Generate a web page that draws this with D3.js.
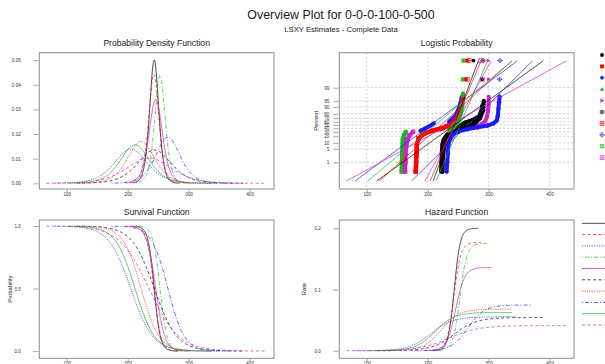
<!DOCTYPE html>
<html>
<head>
<meta charset="utf-8">
<script src="https://cdn.jsdelivr.net/npm/d3@7"></script>
<style>
body { margin: 0; background: #fff; }
svg { display: block; }
text { font-family: "Liberation Sans", Arial, Helvetica, sans-serif; }
</style>
</head>
<body>
<svg id="chart" width="605" height="364"></svg>
<script>
// LSXY logistic fits (location = median, scale from peak / hazard plateau)
var locs   = [243.5, 243, 205, 253, 246, 243.7, 222, 266, 212, 235]
var scales = [5, 5.65, 18, 5.7, 7.35, 18.45, 14.7, 13.4, 16, 24.4]
var zRange = [-6.9, 7.9]   // standardised span each fitted curve is drawn over

var colors = ["#000000", "#ff0000", "#1a1aff", "#1cb41c", "#cc22cc",
              "#000000", "#ff0000", "#1a1aff", "#1cb41c", "#cc22cc"]
var dashes = ["none", "3,2.5", "1.2,1.2", "1,2,4,2", "none", "3,2.5", "1.2,1.2", "1,2,4,2", "none", "3,2.5"]

var xTicks = [100, 200, 300, 400]
var pdfTicks = [0, 0.01, 0.02, 0.03, 0.04, 0.05]
var survTicks = [0, 0.5, 1]
var hazTicks = [0, 0.1, 0.2]
var pctTicks = [1, 5, 10, 20, 30, 40, 50, 60, 70, 80, 90, 95, 99]

// sample points on the logistic probability plot, [time, percent], one list of runs per set
var pts1 = [[[222,0.32],[222.5,1],[223,3],[224,8],[226,14],[232,24],[242,35],[252,48],[262,58],[275,66],[284,74],[288,85],[290,92]], [[289,99.64]], [[275,99.964]]]
var pts2 = [[[181,0.32],[181.5,1],[182,3],[182.5,8],[184,14],[190,22],[200,30],[212,36],[225,42],[236,52],[244,65],[250,78],[255,90],[258,97]], [[262,99.64]], [[264,99.964]]]
var pts3 = [[[158,0.32],[159,3],[160,12],[162,24]], [[188,33],[194,38],[200,44],[206,50],[210,55]], [[235,60],[245,75],[252,90],[256,97]]]
var pts4 = [[[236,30],[242,40],[248,55],[252,70],[255,85],[257,94],[258,98]], [[257,99.64]], [[258,99.964]]]
var pts5 = [[[224,0.32],[225,1],[226,3],[227,8],[229,14],[234,22],[244,30],[258,36],[272,42],[286,50],[294,60],[297,72],[299,85],[300,93],[300,97]], [[300,99.64]], [[299,99.964]]]
var pts6 = [[[224,0.32],[225,2],[227,10],[234,22],[248,34],[262,44],[278,56],[286,70],[291,86],[292,95]], [[291,99.964]]]
var pts7 = [[[180,0.32],[181,2],[182,7],[185,16],[195,26],[208,33],[222,38],[234,46],[242,58],[248,72],[254,88],[258,96]], [[265,99.64]], [[268,99.964]]]
var pts8 = [[[231,0.32],[232,1],[233,3],[234,8],[236,14],[242,24],[252,32],[266,38],[282,43],[298,48],[308,55],[313,63],[315,75],[316,88],[317,94],[318,97]], [[318,99.64]], [[318.6,99.964]]]
var pts9 = [[[157,0.32],[157.5,1],[158,3],[158.5,8],[159,14],[161,22],[164,30]], [[236,36],[244,50],[250,65],[254,80],[257,92]], [[258,99.64]], [[259,99.964]]]
var pts10 = [[[163,0.32],[163.5,1],[164,3],[165,8],[167,14],[170,22],[176,30]], [[290,99.64]], [[287,99.964]]]
var pointSets = [pts1, pts2, pts3, pts4, pts5, pts6, pts7, pts8, pts9, pts10]

var svg = d3.select("#chart")
var boxGray = "#8c8c8c"

var colL = [39.3, 274], colR = [339.3, 574]
var rowT = [52.7, 189], rowB = [220, 358.3]

function logit(p) { return Math.log(p / (100 - p)) }

function makePanel(col, row, yDomain, name) {
    var x = d3.scaleLinear().domain([55, 440]).range(col)
    var y = d3.scaleLinear().domain(yDomain).range([row[1], row[0]])
    var g = svg.append("g")
    svg.append("clipPath").attr("id", "clip" + name)
        .append("rect").attr("x", col[0]).attr("y", row[0])
        .attr("width", col[1] - col[0]).attr("height", row[1] - row[0])
    var inner = g.append("g").attr("clip-path", "url(#clip" + name + ")")
    return {x: x, y: y, g: g, inner: inner, col: col, row: row}
}

function styleAxis(a) {
    a.select(".domain").remove()
    a.selectAll(".tick line").attr("stroke", boxGray).attr("stroke-width", 0.8)
    a.selectAll(".tick text").attr("fill", "#333").style("font-size", "4.6px")
        .style("font-family", '"Liberation Sans", Arial, sans-serif')
}

function axes(p, yTicks, yFormat, pad) {
    var ax = p.g.append("g").attr("transform", "translate(0," + (p.row[1] + 0.5) + ")")
        .call(d3.axisBottom(p.x).tickValues(xTicks).tickSize(2.5).tickPadding(0.8))
    styleAxis(ax)
    var ay = p.g.append("g").attr("transform", "translate(" + (p.col[0] - 1) + ",0)")
        .call(d3.axisLeft(p.y).tickValues(yTicks).tickSize(5).tickPadding(pad).tickFormat(yFormat))
    styleAxis(ay)
    return ay
}

function box(p) {
    p.g.append("rect").attr("x", p.col[0]).attr("y", p.row[0])
        .attr("width", p.col[1] - p.col[0]).attr("height", p.row[1] - p.row[0])
        .attr("fill", "none").attr("stroke", boxGray).attr("stroke-width", 1)
}

function title(text, cx, y, size) {
    svg.append("text").attr("x", cx).attr("y", y).attr("text-anchor", "middle")
        .style("font-size", size + "px").attr("fill", "#1a1a1a").text(text)
}

function ylab(text, x, cy) {
    svg.append("text").attr("transform", "translate(" + x + "," + cy + ") rotate(-90)")
        .attr("text-anchor", "middle").attr("dy", "0.35em")
        .style("font-size", "5.8px").attr("fill", "#222").text(text)
}

function sampleZ() {
    var n = 300
    return d3.range(n + 1).map(function (k) { return zRange[0] + k * (zRange[1] - zRange[0]) / n })
}

function drawCurves(p, fn) {
    locs.forEach(function (mu, i) {
        var s = scales[i]
        var line = d3.line()
            .x(function (z) { return p.x(mu + s * z) })
            .y(function (z) { return p.y(fn(z, s)) })
        p.inner.append("path").attr("d", line(sampleZ()))
            .attr("fill", "none").attr("stroke", colors[i]).attr("stroke-width", 0.85)
            .attr("stroke-opacity", 0.85).attr("stroke-dasharray", dashes[i])
    })
}

function marker(g, k, cx, cy, col, r) {
    var m = g.append("g").attr("transform", "translate(" + cx + "," + cy + ")")
    var sw = 0.6
    if (k === 0) m.append("circle").attr("r", r).attr("fill", col)
    if (k === 1) m.append("rect").attr("x", -r).attr("y", -r).attr("width", 2 * r).attr("height", 2 * r).attr("fill", col)
    if (k === 2) m.append("path").attr("d", "M0," + (-r * 1.2) + "L" + r * 1.2 + ",0L0," + r * 1.2 + "L" + (-r * 1.2) + ",0Z").attr("fill", col)
    if (k === 3) m.append("path").attr("d", "M0," + (-r * 1.2) + "L" + r * 1.1 + "," + r * 0.8 + "L" + (-r * 1.1) + "," + r * 0.8 + "Z").attr("fill", col)
    if (k === 4) m.append("path").attr("d", "M" + r * 1.2 + ",0L" + (-r * 0.8) + "," + (-r * 1.1) + "L" + (-r * 0.8) + "," + r * 1.1 + "Z").attr("fill", col)
    if (k === 5) {
        m.append("circle").attr("r", r).attr("fill", "none").attr("stroke", col).attr("stroke-width", sw)
        m.append("path").attr("d", "M" + (-r) + ",0H" + r + "M0," + (-r) + "V" + r).attr("stroke", col).attr("stroke-width", sw)
    }
    if (k === 6) {
        m.append("rect").attr("x", -r).attr("y", -r).attr("width", 2 * r).attr("height", 2 * r)
            .attr("fill", "none").attr("stroke", col).attr("stroke-width", sw)
        m.append("path").attr("d", "M" + (-r) + ",0H" + r + "M0," + (-r) + "V" + r).attr("stroke", col).attr("stroke-width", sw)
    }
    if (k === 7) {
        var d = r * 1.2
        m.append("path").attr("d", "M0," + (-d) + "L" + d + ",0L0," + d + "L" + (-d) + ",0Z")
            .attr("fill", "none").attr("stroke", col).attr("stroke-width", sw)
        m.append("path").attr("d", "M" + (-d) + ",0H" + d + "M0," + (-d) + "V" + d).attr("stroke", col).attr("stroke-width", sw)
    }
    if (k === 8) {
        m.append("path").attr("d", "M0," + (-r * 1.2) + "L" + r * 1.1 + "," + r * 0.8 + "L" + (-r * 1.1) + "," + r * 0.8 + "Z")
            .attr("fill", "none").attr("stroke", col).attr("stroke-width", sw)
        m.append("path").attr("d", "M0," + r * 1.2 + "L" + r * 1.1 + "," + (-r * 0.8) + "L" + (-r * 1.1) + "," + (-r * 0.8) + "Z")
            .attr("fill", "none").attr("stroke", col).attr("stroke-width", sw)
    }
    if (k === 9) {
        m.append("rect").attr("x", -r).attr("y", -r).attr("width", 2 * r).attr("height", 2 * r)
            .attr("fill", "none").attr("stroke", col).attr("stroke-width", sw)
        m.append("path").attr("d", "M" + (-r) + "," + (-r) + "L" + r + "," + r + "M" + r + "," + (-r) + "L" + (-r) + "," + r)
            .attr("stroke", col).attr("stroke-width", sw)
    }
}

// ---- titles
title("Overview Plot for 0-0-0-100-0-500", 341, 18.5, 12.4)
title("LSXY Estimates - Complete Data", 341, 31.8, 7.7)

// ---- PDF
var p1 = makePanel(colL, rowT, [-0.0023, 0.0530], "pdf")
title("Probability Density Function", (colL[0] + colL[1]) / 2, 46.2, 8.6)
axes(p1, pdfTicks, d3.format(".2f"), 12.5)
drawCurves(p1, function (z, s) { var e = Math.exp(-z); return e / (s * (1 + e) * (1 + e)) })
box(p1)

// ---- Logistic probability
var p2 = makePanel(colR, rowT, [-7.88, 8.9], "lp")
title("Logistic Probability", (colR[0] + colR[1]) / 2, 46.2, 8.6)
xTicks.forEach(function (t) {
    p2.inner.append("line").attr("x1", p2.x(t)).attr("x2", p2.x(t)).attr("y1", rowT[0]).attr("y2", rowT[1])
        .attr("stroke", "#b8b8b8").attr("stroke-width", 0.7).attr("stroke-dasharray", "2,2")
})
pctTicks.forEach(function (pc) {
    p2.inner.append("line").attr("x1", colR[0]).attr("x2", colR[1]).attr("y1", p2.y(logit(pc))).attr("y2", p2.y(logit(pc)))
        .attr("stroke", "#b8b8b8").attr("stroke-width", 0.7).attr("stroke-dasharray", "2,2")
})
var ax2 = p2.g.append("g").attr("transform", "translate(0," + (rowT[1] + 0.5) + ")")
    .call(d3.axisBottom(p2.x).tickValues(xTicks).tickSize(2.5).tickPadding(0.8))
styleAxis(ax2)
var ay2 = p2.g.append("g").attr("transform", "translate(" + (colR[0] - 1) + ",0)")
    .call(d3.axisLeft(p2.y).tickValues(pctTicks.map(logit)).tickSize(5).tickPadding(4)
        .tickFormat(function (v, i) { return pctTicks[i] }))
styleAxis(ay2)
ylab("Percent", 316, (rowT[0] + rowT[1]) / 2)

pointSets.forEach(function (set, i) {
    set.forEach(function (run) {
        var band = d3.line().x(function (d) { return p2.x(d[0]) }).y(function (d) { return p2.y(logit(d[1])) })
        if (run.length > 1) {
            p2.inner.append("path").attr("d", band(run)).attr("fill", "none")
                .attr("stroke", colors[i]).attr("stroke-width", 4).attr("stroke-linecap", "round")
                .attr("stroke-linejoin", "round")
        }
        run.forEach(function (d) { marker(p2.inner, i, p2.x(d[0]), p2.y(logit(d[1])), colors[i], 1.9) })
    })
})
locs.forEach(function (mu, i) {
    var s = scales[i]
    p2.inner.append("line")
        .attr("x1", p2.x(mu + s * zRange[0])).attr("y1", p2.y(zRange[0]))
        .attr("x2", p2.x(mu + s * zRange[1])).attr("y2", p2.y(zRange[1]))
        .attr("stroke", colors[i]).attr("stroke-width", 0.8).attr("stroke-opacity", 0.85)
})
box(p2)

// ---- Survival
var p3 = makePanel(colL, rowB, [-0.058, 1.048], "surv")
title("Survival Function", (colL[0] + colL[1]) / 2, 214.5, 8.6)
axes(p3, survTicks, d3.format(".1f"), 12.5)
ylab("Probability", 10, (rowB[0] + rowB[1]) / 2)
drawCurves(p3, function (z) { return 1 / (1 + Math.exp(z)) })
box(p3)

// ---- Hazard
var p4 = makePanel(colR, rowB, [-0.0124, 0.2136], "haz")
title("Hazard Function", (colR[0] + colR[1]) / 2, 214.5, 8.6)
axes(p4, hazTicks, d3.format(".1f"), 12.5)
ylab("Rate", 304, (rowB[0] + rowB[1]) / 2)
drawCurves(p4, function (z, s) { return 1 / (s * (1 + Math.exp(-z))) })
box(p4)

// ---- legends (cut by the right edge as in the original)
locs.forEach(function (mu, i) {
    marker(svg, i, 602, 55 + 11.4 * i, colors[i], 1.9)
    svg.append("line").attr("x1", 582).attr("x2", 608)
        .attr("y1", 223.3 + 11.3 * i).attr("y2", 223.3 + 11.3 * i)
        .attr("stroke", colors[i]).attr("stroke-width", 0.85).attr("stroke-opacity", 0.85)
        .attr("stroke-dasharray", dashes[i])
})
</script>
</body>
</html>
